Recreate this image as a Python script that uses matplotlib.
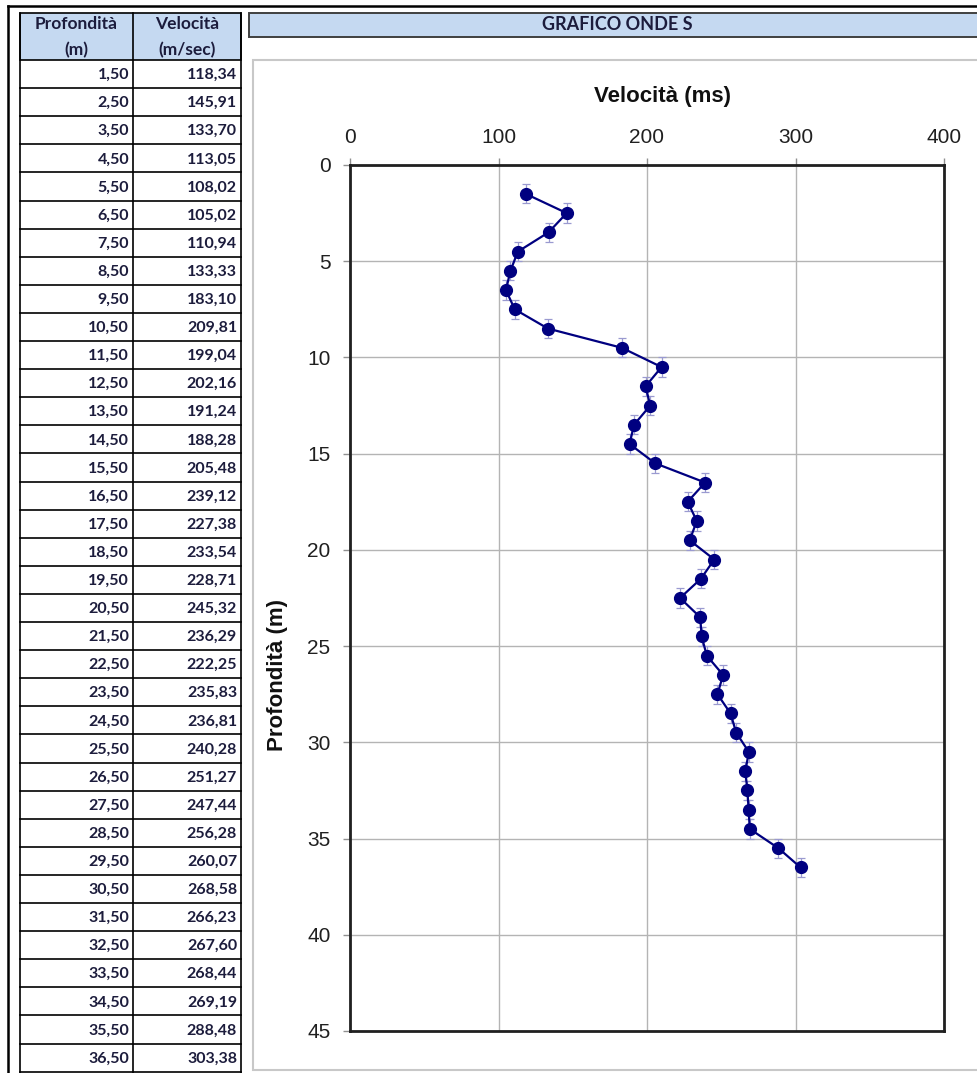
import matplotlib
matplotlib.use("Agg")
import matplotlib.pyplot as plt
from matplotlib.patches import Rectangle

depth = [1.5, 2.5, 3.5, 4.5, 5.5, 6.5, 7.5, 8.5, 9.5, 10.5, 11.5, 12.5,
         13.5, 14.5, 15.5, 16.5, 17.5, 18.5, 19.5, 20.5, 21.5, 22.5, 23.5, 24.5,
         25.5, 26.5, 27.5, 28.5, 29.5, 30.5, 31.5, 32.5, 33.5, 34.5, 35.5, 36.5]
velocity = [118.34, 145.91, 133.70, 113.05, 108.02, 105.02, 110.94, 133.33,
            183.10, 209.81, 199.04, 202.16, 191.24, 188.28, 205.48, 239.12,
            227.38, 233.54, 228.71, 245.32, 236.29, 222.25, 235.83, 236.81,
            240.28, 251.27, 247.44, 256.28, 260.07, 268.58, 266.23, 267.60,
            268.44, 269.19, 288.48, 303.38]
depth_err = 0.5
x_ticks = [0, 100, 200, 300, 400]
y_ticks = [0, 5, 10, 15, 20, 25, 30, 35, 40, 45]

W, H = 977, 1073
HEADER_BLUE = "#c5d9f1"
TEXT_DARK = "#1c1c3c"
TABLE_FONT = ["Lato", "DejaVu Sans"]
CHART_FONT = ["Liberation Sans", "DejaVu Sans"]


def fmt(v):
    return f"{v:.2f}".replace(".", ",")


fig = plt.figure(figsize=(W / 100, H / 100), dpi=100)

# background layer in pixel coordinates (spreadsheet look)
bg = fig.add_axes([0, 0, 1, 1])
bg.set_xlim(0, W)
bg.set_ylim(H, 0)
bg.axis("off")

# outer border of the screenshot
bg.plot([8, W], [6, 6], color="black", lw=1.8)
bg.plot([8, 8], [6, H], color="black", lw=1.8)

# table
col_l, col_m, col_r = 20, 133, 241
head_top, head_bot = 13, 60
row_h = 28.1
bg.add_patch(Rectangle((col_l, head_top), col_r - col_l, head_bot - head_top,
                       facecolor=HEADER_BLUE, edgecolor="black", lw=1.2))
bg.plot([col_m, col_m], [head_top, H], color="black", lw=1.2)
bg.plot([col_l, col_l], [head_top, H], color="black", lw=1.2)
bg.plot([col_r, col_r], [head_top, H], color="black", lw=1.2)
for label, xc in [("Profondità", (col_l + col_m) / 2), ("Velocità", (col_m + col_r) / 2)]:
    bg.text(xc, 24, label, ha="center", va="center", fontsize=12.5,
            fontweight="bold", color=TEXT_DARK, family=TABLE_FONT)
for label, xc in [("(m)", (col_l + col_m) / 2), ("(m/sec)", (col_m + col_r) / 2)]:
    bg.text(xc, 50, label, ha="center", va="center", fontsize=12.5,
            fontweight="bold", color=TEXT_DARK, family=TABLE_FONT)

for i, (d, v) in enumerate(zip(depth, velocity)):
    top = head_bot + i * row_h
    bg.plot([col_l, col_r], [top + row_h, top + row_h], color="black", lw=1.2)
    yc = top + row_h / 2 + 1
    bg.text(col_m - 4, yc, fmt(d), ha="right", va="center", fontsize=11.5,
            fontweight="bold", color=TEXT_DARK, family=TABLE_FONT)
    bg.text(col_r - 4, yc, fmt(v), ha="right", va="center", fontsize=11.5,
            fontweight="bold", color=TEXT_DARK, family=TABLE_FONT)

# chart title bar
bg.add_patch(Rectangle((249, 13), W - 249 + 5, 24, facecolor=HEADER_BLUE,
                       edgecolor="#404040", lw=1.4))
bg.text(617, 25, "GRAFICO ONDE S", ha="center", va="center", fontsize=13,
        fontweight="bold", color=TEXT_DARK, family=TABLE_FONT)

# chart area frame
bg.add_patch(Rectangle((253, 60), W - 253 + 5, 1010, facecolor="white",
                       edgecolor="#c8c8c8", lw=1.5))

# the chart itself
ax_l, ax_r, ax_t, ax_b = 350, 944, 165, 1031
ax = fig.add_axes([ax_l / W, 1 - ax_b / H, (ax_r - ax_l) / W, (ax_b - ax_t) / H])
ax.errorbar(velocity, depth, yerr=depth_err, fmt="none", ecolor="#9a9ad0",
            elinewidth=0.9, capsize=2.6, capthick=0.9, zorder=3)
ax.plot(velocity, depth, color="#000080", lw=1.6, marker="o", ms=8.5,
        markerfacecolor="#000080", markeredgecolor="#000080", zorder=4)

ax.set_xlim(0, 400)
ax.set_ylim(45, 0)
ax.set_xticks(x_ticks)
ax.set_yticks(y_ticks)
ax.xaxis.tick_top()
ax.xaxis.set_label_position("top")
ax.grid(True, color="#b4b4b4", lw=1.0)
ax.set_axisbelow(True)
for sp in ax.spines.values():
    sp.set_color("#202020")
    sp.set_linewidth(2.0)
ax.tick_params(axis="both", direction="out", length=5, width=1, color="#909090",
               labelsize=15, labelcolor="#202020")
ax.tick_params(axis="x", pad=8)
ax.tick_params(axis="y", pad=9)
for lab in ax.get_xticklabels() + ax.get_yticklabels():
    lab.set_family(CHART_FONT)

ax.set_xlabel("Velocità (ms)", fontsize=16, fontweight="bold", family=CHART_FONT,
              color="#101010")
ax.set_ylabel("Profondità (m)", fontsize=16, fontweight="bold", family=CHART_FONT,
              color="#101010")
ax.xaxis.set_label_coords((662 - ax_l) / (ax_r - ax_l), 1 + (ax_t - 102) / (ax_b - ax_t))
ax.yaxis.set_label_coords((288 - ax_l) / (ax_r - ax_l), (ax_b - 675) / (ax_b - ax_t))

plt.savefig("out.png", dpi=100)
